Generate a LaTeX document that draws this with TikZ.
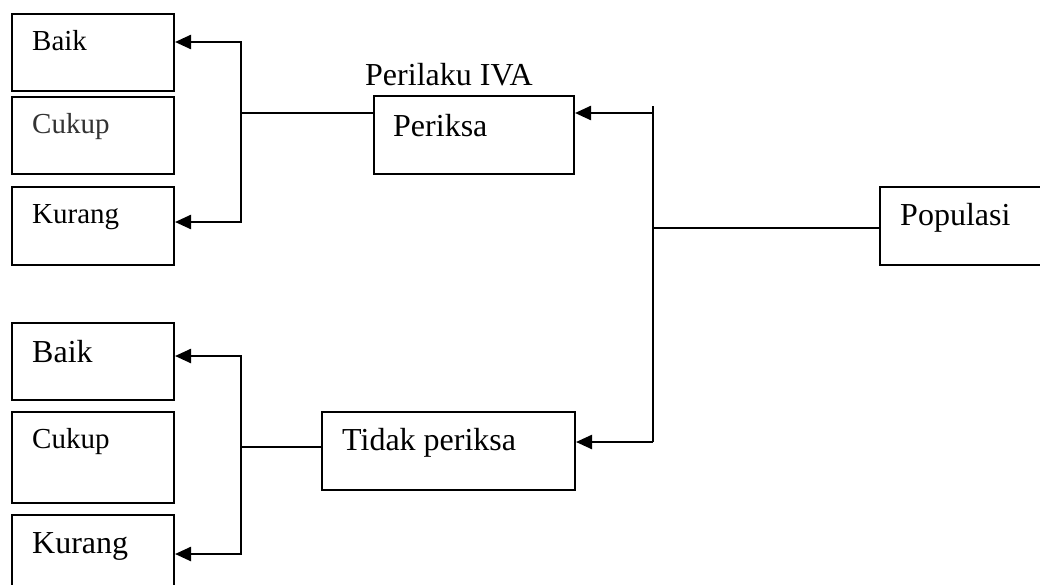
\documentclass[tikz,border=0pt]{standalone}
\usepackage{fontspec}
\setmainfont{Liberation Serif}
\usetikzlibrary{arrows.meta,calc}
\tikzset{
 box/.style={draw, line width=2pt, rectangle, inner sep=0pt, anchor=north west},
 lbl/.style={anchor=base west, inner sep=0pt, font=\fontsize{32}{38}\selectfont},
 lbls/.style={anchor=base west, inner sep=0pt, font=\fontsize{29}{35}\selectfont},
 conn/.style={line width=1.5pt},
 arr/.style={line width=2.4pt, -{Triangle[length=16pt,width=14pt]}},
 darr/.style={line width=2.4pt, {Triangle[length=16pt,width=14pt]}-{Triangle[length=16pt,width=14pt]}},
}
\begin{document}
\begin{tikzpicture}[x=1pt,y=-1pt]
\useasboundingbox (0,0) rectangle (1040,584);
\clip (0,0) rectangle (1040,584);
% ---- top group boxes
\node[box, minimum width=162pt, minimum height=77pt] (tb) at (11,13) {};
\node[box, minimum width=162pt, minimum height=77pt] (tc) at (11,96) {};
\node[box, minimum width=162pt, minimum height=78pt] (tk) at (11,186) {};
\node[lbls] (tbt) at (32,50) {Baik};
\node[lbls, text=black!80] (tct) at (32,133) {Cukup};
\node[lbls] (tkt) at (32,223) {Kurang};
% ---- Periksa
\node[box, minimum width=200pt, minimum height=78pt] (per) at (373,95) {};
\node[lbl] (pert) at (393,136) {Periksa};
\node[lbl] (iva) at (365,85) {Perilaku IVA};
% ---- bottom group boxes
\node[box, minimum width=162pt, minimum height=77pt] (bb) at (11,322) {};
\node[box, minimum width=162pt, minimum height=91pt] (bc) at (11,411) {};
\node[box, minimum width=162pt, minimum height=90pt] (bk) at (11,514) {};
\node[lbl] (bbt) at (32,362) {Baik};
\node[lbls] (bct) at (32,448) {Cukup};
\node[lbl] (bkt) at (32,553) {Kurang};
% ---- Tidak periksa
\node[box, minimum width=253pt, minimum height=78pt] (tid) at (321,411) {};
\node[lbl] (tidt) at (342,450) {Tidak periksa};
% ---- Populasi
\node[box, minimum width=180pt, minimum height=78pt] (pop) at (879,186) {};
\node[lbl] (popt) at (900,225) {Populasi};
% ---- connectors, top left
\coordinate (j1) at (241,42);
\coordinate (j2) at (241,222);
\coordinate (j3) at (241,113);
\draw[darr] (j1 -| tb.east) -- (j1) -- (j2) -- (j2 -| tk.east);
\draw[conn] (j3) -- (j3 -| per.west);
% ---- connectors, bottom left
\coordinate (k1) at (241,356);
\coordinate (k2) at (241,554);
\coordinate (k3) at (241,447);
\draw[darr] (k1 -| bb.east) -- (k1) -- (k2) -- (k2 -| bk.east);
\draw[conn] (k3) -- (k3 -| tid.west);
% ---- right side
\coordinate (rtop) at (653,106);
\coordinate (rp) at (653,113);
\coordinate (rt) at (653,442);
\coordinate (rm) at (653,228);
\draw[conn] (rtop) -- (rt);
\draw[arr] (rp) -- (rp -| per.east);
\draw[arr] (rt) -- (rt -| tid.east);
\draw[conn] (rm) -- (rm -| pop.west);
\end{tikzpicture}
\end{document}
